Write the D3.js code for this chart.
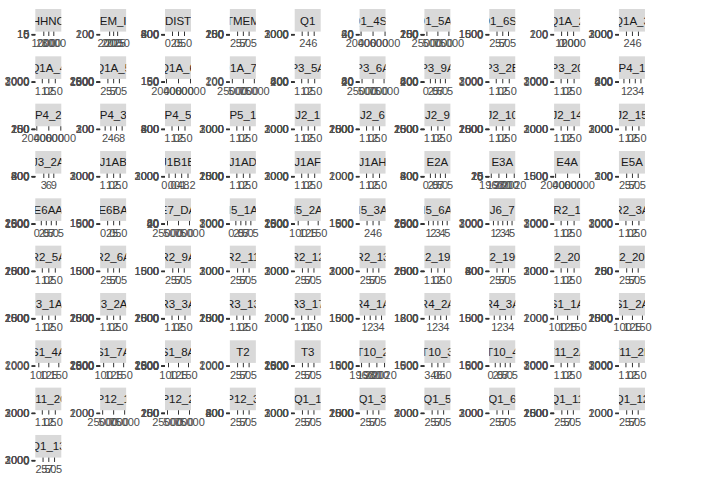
<!DOCTYPE html>
<html>
<head>
<meta charset="utf-8">
<script src="https://cdn.jsdelivr.net/npm/d3@7"></script>
<style>
  html, body { margin: 0; padding: 0; background: #ffffff; }
  svg { display: block; }
</style>
</head>
<body>
<script>
// ---------------- DATA ----------------
const panelNames = [
  "HHNC","EM_I","DIST","TMEM","Q1","Q1_4S1","Q1_5A1","Q1_6S1","Q1A_2","Q1A_3",
  "Q1A_4","Q1A_5","Q1A_6","Q1A_7A","P3_5A","P3_6A","P3_9A","P3_2B","P3_20","P4_1",
  "P4_2","P4_3","P4_5","P5_1","J2_1","J2_6","J2_9","J2_10","J2_14","J2_15",
  "J3_2A","J1AB","J1B1B","J1AD","J1AF","J1AH","E2A","E3A","E4A","E5A",
  "E6AA","E6BA","E7_DA","I5_1A","I5_2A","I5_3A","I5_6A","J6_7","R2_1","R2_3A",
  "R2_5A","R2_6A","R2_9A","R2_11","R2_12","R2_13","R2_19A","R2_19C","R2_20A","R2_20C",
  "R3_1A1","R3_2A1","R3_3A","R3_13","R3_17","R4_1A","R4_2A","R4_3A","S1_1A","S1_2A",
  "S1_4A","S1_7A","S1_8A","T2","T3","T10_2","T10_3","T10_4","T11_2A","T11_2B",
  "T11_2C","P12_1","P12_2","P12_3","Q1_1","Q1_3","Q1_5","Q1_6","Q1_11","Q1_12",
  "Q1_13"
];

// y-axis (count) tick sets
const yTicks = {
  Y3000: [0, 1000, 2000, 3000],
  Y2500: [0, 500, 1000, 1500, 2000, 2500],
  Y2000: [0, 1000, 2000],
  Y1500: [0, 500, 1000, 1500],
  Y1800: [0, 600, 1200, 1800],
  Y800:  [0, 200, 400, 600, 800],
  Y300:  [0, 100, 200, 300],
  Y250:  [0, 50, 100, 150, 200, 250],
  Y200:  [0, 100, 200],
  Y150:  [0, 50, 100, 150],
  Y80:   [0, 20, 40, 60, 80],
  Y60:   [0, 20, 40, 60],
  Y25:   [0, 5, 10, 15, 20, 25],
  Y15:   [0, 5, 10, 15]
};
const panelYTicks = [
  "Y15","Y200","Y800","Y250","Y3000","Y60","Y250","Y1500","Y200","Y3000",
  "Y3000","Y2500","Y150","Y200","Y800","Y80","Y800","Y3000","Y3000","Y800",
  "Y250","Y300","Y800","Y3000","Y3000","Y2500","Y2500","Y2500","Y3000","Y3000",
  "Y800","Y3000","Y3000","Y2500","Y3000","Y2000","Y800","Y25","Y1500","Y300",
  "Y2500","Y1500","Y80","Y3000","Y2500","Y1500","Y2500","Y3000","Y3000","Y3000",
  "Y2500","Y1500","Y1500","Y3000","Y3000","Y3000","Y2500","Y800","Y3000","Y250",
  "Y2500","Y2500","Y2500","Y2500","Y2000","Y1500","Y1800","Y1500","Y2000","Y2500",
  "Y2000","Y2500","Y2500","Y2000","Y2500","Y1500","Y1500","Y1500","Y3000","Y3000",
  "Y3000","Y2000","Y250","Y800","Y3000","Y2500","Y3000","Y3000","Y2500","Y2000",
  "Y3000"
];

// x-axis (value) tick sets
const xTicks = {
  A:  [1.0, 1.5, 2.0],
  B:  [2.5, 5.0, 7.5],
  C:  [2, 4, 6],
  D:  [1, 2, 3, 4],
  E:  [1, 2, 3, 4, 5],
  F:  [3, 6, 9],
  G:  [2, 4, 6, 8],
  H:  [0.0, 2.5, 5.0, 7.5],
  H3: [0.0, 2.5, 5.0],
  J:  [100, 125, 150],
  K:  [0.0, 0.4, 0.8, 1.2],
  L:  [1960, 1980, 2000, 2020],
  M:  [20000, 40000, 60000],
  N:  [25000, 50000, 75000],
  HH: [1000, 2000, 3000],
  EM: [2000, 2025, 2050],
  Q:  [0, 1000, 2000],
  T3: [3.0, 4.5, 6.0]
};
const panelXTicks = [
  "HH","EM","H3","B","C","M","N","B","Q","C",
  "A","B","M","N","A","N","H","A","A","D",
  "M","G","A","A","A","A","A","A","A","A",
  "F","A","K","A","A","A","H","L","M","B",
  "H","H3","N","H","J","C","E","E","A","A",
  "A","B","B","B","B","B","A","B","A","B",
  "A","A","A","A","A","D","D","D","J","J",
  "J","J","J","B","B","L","T3","H","A","A",
  "A","N","N","B","B","B","B","B","B","B",
  "B"
];

// ---------------- LAYOUT / STYLE ----------------
const W = 713, H = 497;
const nCols = 10;
const colX0 = 35.3, colStep = 64.85;
const rowY0 = 9, rowStep = 47.33;
const stripW = 26, stripH = 22.6;
const decimalSets = new Set(["A","B","H","H3","K","T3"]);
const spanPx = { A: 13, B: 11.5, C: 12, D: 17, E: 18.6, F: 10, G: 17, H: 15, H3: 12,
                 J: 20, K: 19, L: 23, M: 24, N: 22, HH: 10, EM: 8, Q: 12, T3: 12 };
const FONT = "'Liberation Sans', Arial, Helvetica, sans-serif";
const STRIP_FS = 11.5, AXIS_FS = 11;

const svg = d3.select("body").append("svg")
  .attr("width", W).attr("height", H)
  .style("background", "#ffffff");

const defs = svg.append("defs");

panelNames.forEach((name, i) => {
  const r = Math.floor(i / nCols), c = i % nCols;
  const left = colX0 + colStep * c;
  const top = rowY0 + rowStep * r;
  const g = svg.append("g").attr("transform", `translate(${left},${top})`);

  // strip
  g.append("rect")
    .attr("x", 0).attr("y", 0).attr("width", stripW).attr("height", stripH)
    .attr("fill", "#d9d9d9");
  defs.append("clipPath").attr("id", "clip" + i)
    .append("rect").attr("x", 0).attr("y", 0).attr("width", stripW).attr("height", stripH);
  g.append("text")
    .attr("x", stripW / 2).attr("y", 15.5)
    .attr("text-anchor", "middle")
    .attr("clip-path", `url(#clip${i})`)
    .attr("font-family", FONT).attr("font-size", STRIP_FS)
    .attr("fill", "#1a1a1a")
    .text(name);

  // x axis
  const key = panelXTicks[i];
  const br = xTicks[key];
  const sp = spanPx[key];
  const x = d3.scaleLinear().domain(d3.extent(br))
    .range([stripW / 2 - sp / 2, stripW / 2 + sp / 2]);
  const fmt = decimalSets.has(key) ? d3.format(".1f") : d3.format("d");
  const xa = g.append("g").attr("transform", `translate(0,${stripH})`)
    .call(d3.axisBottom(x).tickValues(br).tickFormat(fmt)
      .tickSize(4.4).tickPadding(3.6).tickSizeOuter(0));
  xa.select(".domain").remove();
  xa.attr("font-family", FONT).attr("font-size", AXIS_FS);
  xa.selectAll(".tick line").attr("stroke", "#333333").attr("stroke-width", 1);
  xa.selectAll(".tick text").attr("fill", "#4d4d4d");

  // y axis (panel collapsed to almost zero height)
  const yb = yTicks[panelYTicks[i]];
  const y = d3.scaleLinear().domain([0, d3.max(yb)]).range([25.6, 24.9]);
  const ya = g.append("g")
    .call(d3.axisLeft(y).tickValues(yb).tickFormat(d3.format("d"))
      .tickSize(3.7).tickPadding(2.3).tickSizeOuter(0));
  ya.select(".domain").remove();
  ya.attr("font-family", FONT).attr("font-size", AXIS_FS);
  ya.selectAll(".tick line").attr("stroke", "#333333").attr("stroke-width", 1);
  ya.selectAll(".tick text").attr("fill", "#4d4d4d");
});
</script>
</body>
</html>
